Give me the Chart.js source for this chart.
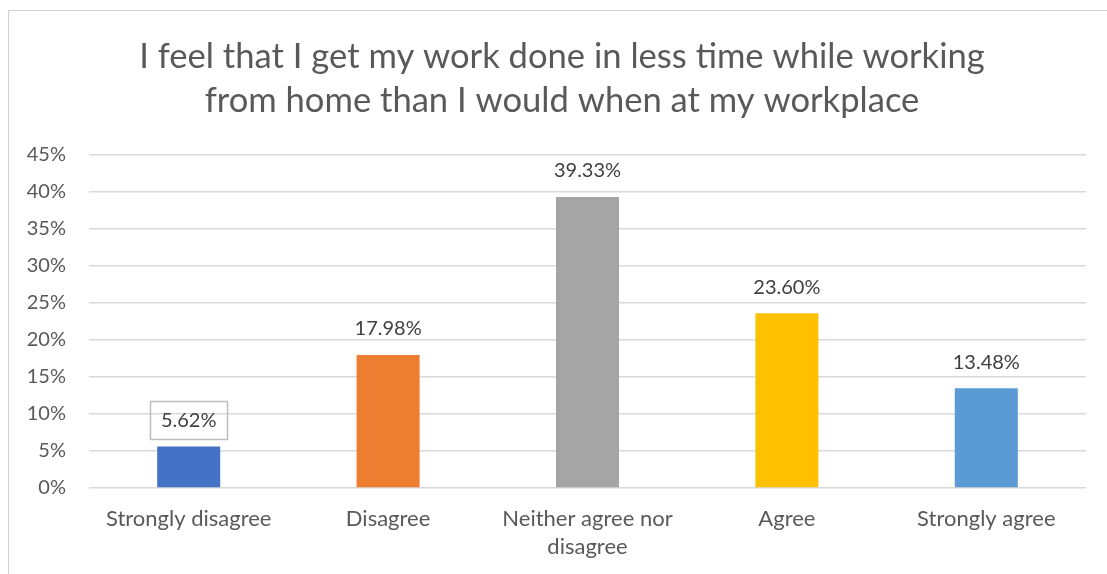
<!DOCTYPE html>
<html>
<head>
<meta charset="utf-8">
<script src="https://cdn.jsdelivr.net/npm/chart.js@4.4.1/dist/chart.umd.min.js"></script>
<style>
  html, body { margin: 0; padding: 0; background: #fff; }
  #frame {
    position: absolute; left: 8px; top: 10px; width: 1200px; height: 700px;
    border: 1px solid #D0D0D0; box-sizing: border-box;
  }
  #wrap { position: absolute; left: 0; top: 0; width: 1107px; height: 574px; }
</style>
</head>
<body>
<div id="frame"></div>
<div id="wrap"><canvas id="chart"></canvas></div>
<script>
const categories = [
  'Strongly disagree',
  'Disagree',
  ['Neither agree nor', 'disagree'],
  'Agree',
  'Strongly agree'
];
const shares = [5.62, 17.98, 39.33, 23.60, 13.48];
const barColors = ['#4472C4', '#ED7D31', '#A5A5A5', '#FFC000', '#5B9BD5'];
const yTicks = [0, 5, 10, 15, 20, 25, 30, 35, 40, 45];

const FONT = 'Lato, "Open Sans", sans-serif';
const TEXT = '#595959';

// value labels above each bar; the first one sits in a thin box
const valueLabels = {
  id: 'valueLabels',
  afterDatasetsDraw(chart) {
    const ctx = chart.ctx;
    const meta = chart.getDatasetMeta(0);
    ctx.save();
    ctx.font = '20px ' + FONT;
    ctx.fillStyle = '#404040';
    ctx.textAlign = 'center';
    ctx.textBaseline = 'middle';
    meta.data.forEach((bar, i) => {
      const text = shares[i].toFixed(2) + '%';
      const y = bar.y - 26;
      if (i === 0) {
        const w = ctx.measureText(text).width + 21;
        ctx.strokeStyle = '#BFBFBF';
        ctx.lineWidth = 1.5;
        ctx.strokeRect(Math.round(bar.x - w / 2) + 0.5, Math.round(y - 19) + 0.5, Math.round(w), 38);
      }
      ctx.fillText(text, bar.x, y);
    });
    ctx.restore();
  }
};

// centre the title on the whole frame instead of the space left of the padding
const titleShift = {
  id: 'titleShift',
  afterLayout(chart) {
    const t = chart.titleBlock;
    if (t) { t.left = 0; t.right = 1124; }
  }
};

new Chart(document.getElementById('chart'), {
  type: 'bar',
  data: {
    labels: categories,
    datasets: [{
      data: shares,
      backgroundColor: barColors,
      borderWidth: 0,
      categoryPercentage: 1,
      barPercentage: 0.316
    }]
  },
  options: {
    responsive: true,
    maintainAspectRatio: false,
    animation: false,
    layout: { padding: { left: 0, right: 21, top: 0, bottom: 0 } },
    plugins: {
      legend: { display: false },
      tooltip: { enabled: false },
      title: {
        display: true,
        text: ['I feel that I get my work done in less time while working', 'from home than I would when at my workplace'],
        color: TEXT,
        font: { family: FONT, size: 34.6, weight: 'normal', lineHeight: 1.272 },
        padding: { top: 35, bottom: 32 }
      }
    },
    scales: {
      x: {
        afterFit(axis) { axis.height = 86; },
        grid: { display: false },
        border: { display: false },
        ticks: {
          color: TEXT,
          font: { family: FONT, size: 22, lineHeight: 1.27 },
          padding: 9,
          maxRotation: 0
        }
      },
      y: {
        min: 0,
        max: 45,
        afterFit(axis) { axis.width = 89; },
        afterBuildTicks(axis) {
          axis.ticks = yTicks.map(v => ({ value: v }));
        },
        grid: { color: '#D9D9D9', lineWidth: 1.5, drawTicks: false },
        border: { display: false },
        ticks: {
          color: TEXT,
          font: { family: FONT, size: 20 },
          padding: 23,
          callback: v => v + '%'
        }
      }
    }
  },
  plugins: [valueLabels, titleShift]
});
</script>
</body>
</html>
